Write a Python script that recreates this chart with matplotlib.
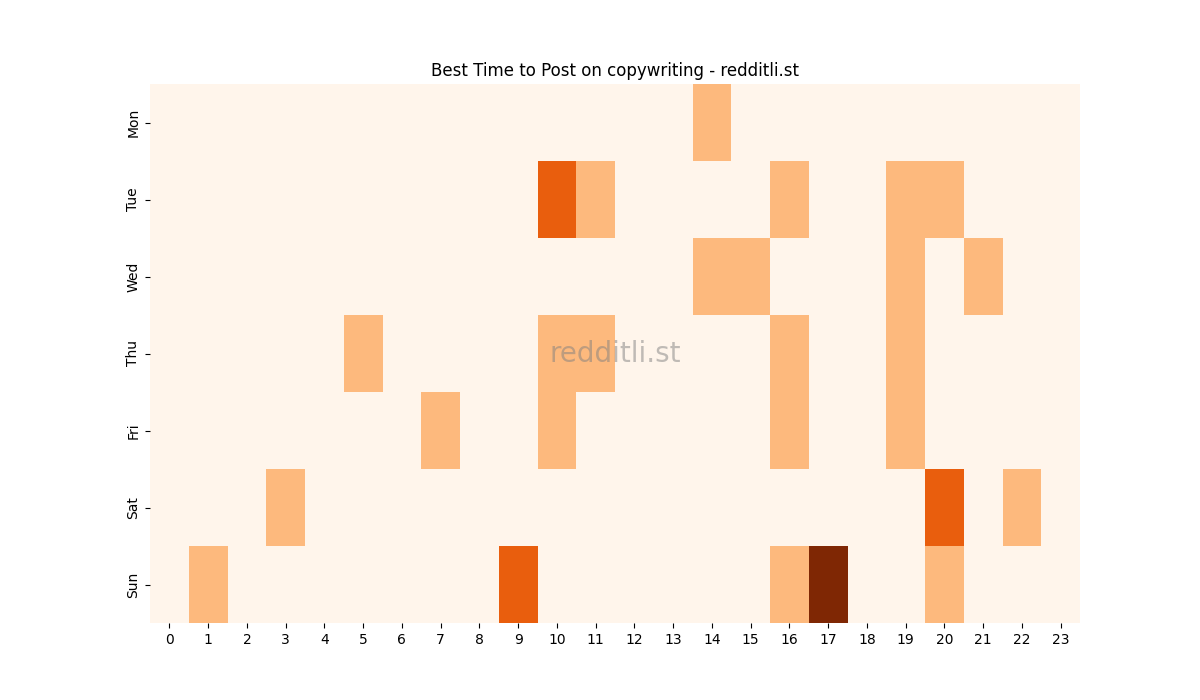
import matplotlib
matplotlib.use("Agg")
import matplotlib.pyplot as plt
import seaborn as sns
import numpy as np

days = ["Mon", "Tue", "Wed", "Thu", "Fri", "Sat", "Sun"]
hours = list(range(24))
cells = {
    "Mon": {14: 1},
    "Tue": {10: 2, 11: 1, 16: 1, 19: 1, 20: 1},
    "Wed": {14: 1, 15: 1, 19: 1, 21: 1},
    "Thu": {5: 1, 10: 1, 11: 1, 16: 1, 19: 1},
    "Fri": {7: 1, 10: 1, 16: 1, 19: 1},
    "Sat": {3: 1, 20: 2, 22: 1},
    "Sun": {1: 1, 9: 2, 16: 1, 17: 3, 20: 1},
}
data = np.zeros((len(days), len(hours)))
for i, d in enumerate(days):
    for h, v in cells[d].items():
        data[i, h] = v

fig = plt.figure(figsize=(12, 7), dpi=100)
ax = fig.add_axes([0.125, 0.11, 0.775, 0.77])
sns.heatmap(data, cmap="Oranges", vmin=0, vmax=3, cbar=False, ax=ax,
            xticklabels=hours, yticklabels=days)
ax.set_title("Best Time to Post on copywriting - redditli.st", fontsize=12)
ax.text(0.5, 0.5, "redditli.st", transform=ax.transAxes, ha="center", va="center",
        fontsize=20, color="grey", alpha=0.5)
plt.setp(ax.get_xticklabels(), rotation=0)
plt.setp(ax.get_yticklabels(), rotation=90, va="center")
fig.savefig("out.png")
